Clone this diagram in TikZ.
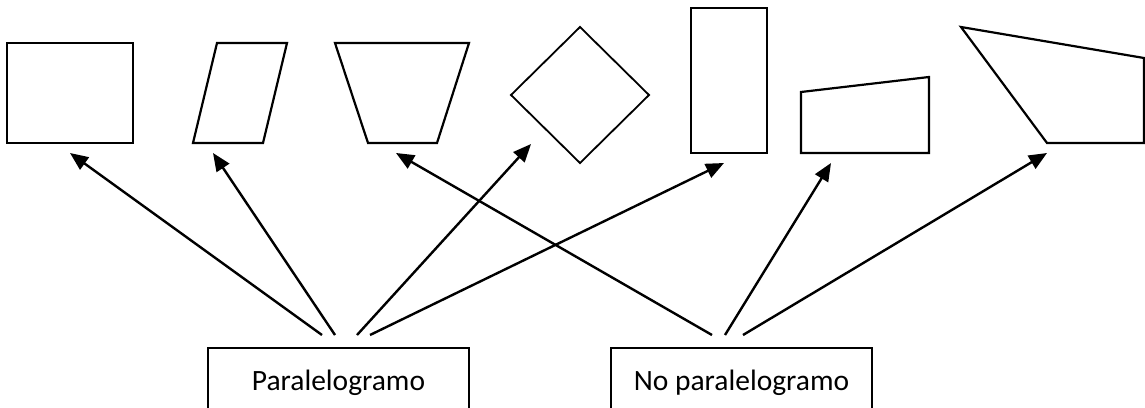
\documentclass[tikz,border=0pt]{standalone}
\usepackage{fontspec}
\setmainfont{Carlito}
\usetikzlibrary{arrows.meta}
\begin{document}
\begin{tikzpicture}[x=1pt,y=-1pt,
  shapeline/.style={line width=2.2pt,line join=miter},
  conn/.style={line width=2.4pt,-{Triangle[length=18pt,width=15pt]}},
  labelbox/.style={draw,line width=2pt,anchor=north,minimum width=261pt,
    minimum height=70pt,text height=22pt,text depth=8pt,inner ysep=17pt,
    font=\fontsize{29.5}{34}\selectfont,anchor=north}]
\useasboundingbox (0,0) rectangle (1145,407);
\clip (0,0) rectangle (1145,407);
% shapes
\draw[shapeline] (7,43) rectangle (133,143);
\draw[shapeline] (217,43) -- (287,43) -- (263,143) -- (193,143) -- cycle;
\draw[shapeline] (335,43) -- (469,43) -- (437,143) -- (368,143) -- cycle;
\draw[shapeline,line width=1.8pt] (580,27) -- (649,95) -- (580,163) -- (511,95) -- cycle;
\draw[shapeline] (691,8) rectangle (767,153);
\draw[shapeline] (801,92) -- (929,77) -- (929,153) -- (801,153) -- cycle;
\draw[shapeline] (961,27) -- (1144,58) -- (1144,143) -- (1047,143) -- cycle;
% boxes
\node[labelbox] (para) at (338.5,347) {Paralelogramo};
\node[labelbox] (nopara) at (741.5,347) {No paralelogramo};
% arrow ends
\coordinate (t1) at (70,153);
\coordinate (t2) at (213,153);
\coordinate (t3) at (396,153);
\coordinate (t4) at (531,144);
\coordinate (t5) at (724,163);
\coordinate (t6) at (831,163);
\coordinate (t7) at (1047,153);
\coordinate (a1) at (322,335);
\coordinate (a2) at (335,335);
\coordinate (a3) at (357,335);
\coordinate (a4) at (370,335);
\coordinate (b1) at (712,335);
\coordinate (b2) at (725,335);
\coordinate (b3) at (743,335);
\draw[conn] (a1) -- (t1);
\draw[conn] (a2) -- (t2);
\draw[conn] (a3) -- (t4);
\draw[conn] (a4) -- (t5);
\draw[conn] (b1) -- (t3);
\draw[conn] (b2) -- (t6);
\draw[conn] (b3) -- (t7);
\end{tikzpicture}
\end{document}
